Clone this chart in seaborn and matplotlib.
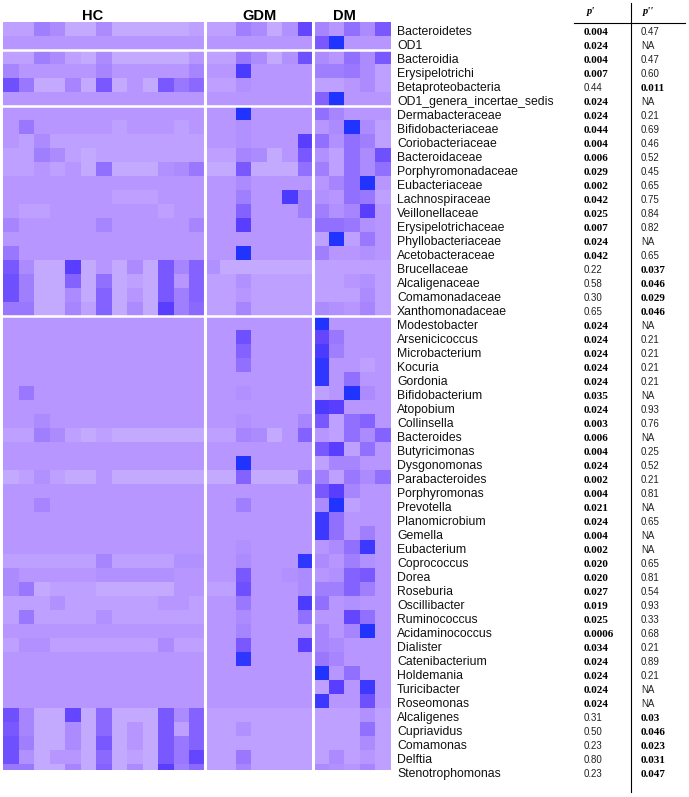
import numpy as np
import pandas as pd
import matplotlib
matplotlib.use("Agg")
import matplotlib.pyplot as plt
import seaborn as sns
from matplotlib.colors import LinearSegmentedColormap
from matplotlib.lines import Line2D
from matplotlib.transforms import blended_transform_factory

# ---------------- data ----------------
taxa = ["Bacteroidetes", "OD1", "Bacteroidia", "Erysipelotrichi", "Betaproteobacteria",
        "OD1_genera_incertae_sedis", "Dermabacteraceae", "Bifidobacteriaceae",
        "Coriobacteriaceae", "Bacteroidaceae", "Porphyromonadaceae", "Eubacteriaceae",
        "Lachnospiraceae", "Veillonellaceae", "Erysipelotrichaceae", "Phyllobacteriaceae",
        "Acetobacteraceae", "Brucellaceae", "Alcaligenaceae", "Comamonadaceae",
        "Xanthomonadaceae", "Modestobacter", "Arsenicicoccus", "Microbacterium", "Kocuria",
        "Gordonia", "Bifidobacterium", "Atopobium", "Collinsella", "Bacteroides",
        "Butyricimonas", "Dysgonomonas", "Parabacteroides", "Porphyromonas", "Prevotella",
        "Planomicrobium", "Gemella", "Eubacterium", "Coprococcus", "Dorea", "Roseburia",
        "Oscillibacter", "Ruminococcus", "Acidaminococcus", "Dialister", "Catenibacterium",
        "Holdemania", "Turicibacter", "Roseomonas", "Alcaligenes", "Cupriavidus",
        "Comamonas", "Delftia", "Stenotrophomonas"]

p_prime = ["0.004", "0.024", "0.004", "0.007", "0.44", "0.024", "0.024", "0.044", "0.004",
           "0.006", "0.029", "0.002", "0.042", "0.025", "0.007", "0.024", "0.042", "0.22",
           "0.58", "0.30", "0.65", "0.024", "0.024", "0.024", "0.024", "0.024", "0.035",
           "0.024", "0.003", "0.006", "0.004", "0.024", "0.002", "0.004", "0.021", "0.024",
           "0.004", "0.002", "0.020", "0.020", "0.027", "0.019", "0.025", "0.0006", "0.034",
           "0.024", "0.024", "0.024", "0.024", "0.31", "0.50", "0.23", "0.80", "0.23"]

p_double = ["0.47", "NA", "0.47", "0.60", "0.011", "NA", "0.21", "0.69", "0.46", "0.52",
            "0.45", "0.65", "0.75", "0.84", "0.82", "NA", "0.65", "0.037", "0.046", "0.029",
            "0.046", "NA", "0.21", "0.21", "0.21", "0.21", "NA", "0.93", "0.76", "NA",
            "0.25", "0.52", "0.21", "0.81", "NA", "0.65", "NA", "NA", "0.65", "0.81", "0.54",
            "0.93", "0.33", "0.68", "0.21", "0.89", "0.21", "NA", "NA", "0.03", "0.046",
            "0.023", "0.031", "0.047"]

groups = ["HC", "GDM", "DM"]

hc_vals = [
    [1.5, 1.5, 4, 3, 1, 1, 3, 1, 1, 1, 1, 1, 1.5],
    [2, 2, 2, 2, 2, 2, 2, 2, 2, 2, 2, 2, 2],
    [1.5, 1.5, 4, 3, 1.5, 1, 3, 1, 1, 1, 1, 1, 2],
    [3.5, 2, 2, 2, 2, 2, 3.5, 2, 2, 2, 2, 2, 3.5],
    [7, 4.5, 1, 1, 3.5, 1, 6.5, 1, 2, 1, 6.5, 4.5, 5.5],
    [2, 2, 2, 2, 2, 2, 2, 2, 2, 2, 2, 2, 2],
    [2, 2, 2, 2, 2, 2, 2, 2, 2, 2, 2, 2, 2],
    [2, 4.5, 2, 2, 2, 2, 2, 1.5, 2, 2, 2, 1.5, 2],
    [2, 1.5, 3, 1.5, 1.5, 1.5, 1.5, 1.5, 1.5, 1.5, 1.5, 1.5, 1.5],
    [1.5, 1.5, 4, 3, 1.5, 1, 1.5, 1.5, 1.5, 1.5, 1.5, 1.5, 1.5],
    [1.5, 1.5, 2, 1.5, 2, 1, 5, 1, 1, 1, 2.5, 3, 4.5],
    [2, 2, 2, 2, 2, 2, 2, 2, 2, 2, 2, 2, 2],
    [2, 2, 2, 2, 2, 2, 2, 1.5, 1.5, 1.5, 2, 2, 2],
    [2, 1.5, 1.5, 2, 2, 2, 2, 2, 2, 2, 1.5, 2, 2],
    [3.5, 2, 2, 2, 2, 2, 3.5, 2, 2, 2, 2, 2, 3.5],
    [2, 2, 2, 2, 2, 2, 2, 2, 2, 2, 2, 2, 2],
    [4.5, 2, 2, 2, 2, 2, 2, 2, 2, 2, 2, 2, 2],
    [6.5, 3, 1, 1, 8, 1, 2, 1, 3, 1, 6.5, 3.5, 6],
    [7, 4, 1, 1, 6, 1, 5, 1, 1.5, 1, 6.5, 2, 6],
    [7, 4, 1, 1, 3, 1, 6, 1, 2, 1, 6.5, 4, 6],
    [4.5, 4.5, 1, 1, 3.5, 1.5, 6, 1, 3, 1, 8, 4, 5.5],
    [2, 2, 2, 2, 2, 2, 2, 2, 2, 2, 2, 2, 2],
    [2, 2, 2, 2, 2, 2, 2, 2, 2, 2, 2, 2, 2],
    [2, 2, 2, 2, 2, 2, 2, 2, 2, 2, 2, 2, 2],
    [2, 2, 2, 2, 2, 2, 2, 2, 2, 2, 2, 2, 2],
    [2, 2, 2, 2, 2, 2, 2, 2, 2, 2, 2, 2, 2],
    [2, 4.5, 2, 2, 2, 2, 2, 2, 2, 2, 2, 2, 2],
    [2, 2, 2, 2, 2, 2, 2, 2, 2, 2, 2, 2, 2],
    [2, 2, 3, 2, 2, 2, 2, 2, 2, 2, 2, 2, 2],
    [1.5, 1.5, 4, 3, 1.5, 1, 1.5, 1, 1, 1, 1, 1, 1],
    [2, 2, 2, 2, 2, 2, 2, 2, 2, 2, 2, 2, 2],
    [2, 2, 2, 2, 2, 2, 2, 2, 2, 2, 2, 2, 2],
    [1, 1.5, 2.5, 1.5, 1, 1, 2, 1, 1, 1, 1, 1, 1],
    [2, 2, 2, 2, 2, 2, 2, 2, 2, 2, 2, 2, 2],
    [2, 2, 3.5, 2, 2, 2, 2, 2, 2, 2, 2, 2, 2],
    [2, 2, 2, 2, 2, 2, 2, 2, 2, 2, 2, 2, 2],
    [2, 2, 2, 2, 2, 2, 2, 2, 2, 2, 2, 2, 2],
    [2, 2, 2, 2, 2, 2, 2, 2, 2, 2, 2, 2, 2],
    [1.5, 1.5, 1.5, 1.5, 1.5, 1.5, 3.5, 1.5, 1.5, 1.5, 1.5, 2.5, 2.5],
    [3, 2, 2, 2, 2, 2, 2.5, 2.5, 2.5, 2.5, 2.5, 2, 2],
    [3, 4.5, 1, 1.5, 1.5, 1.5, 1, 1, 1, 1, 1, 2, 2],
    [1.5, 1.5, 1.5, 2.5, 1.5, 1.5, 1.5, 1.5, 1.5, 1.5, 2, 2, 1.5],
    [1.5, 4.5, 1.5, 1.5, 1.5, 1.5, 2.5, 1.5, 1.5, 1.5, 1.5, 1.5, 1.5],
    [2, 2, 2, 2, 2, 2, 2, 2, 2, 2, 2, 2, 2],
    [1.5, 2.5, 2.5, 1.5, 1.5, 1.5, 1.5, 1.5, 1.5, 1.5, 3, 1.5, 1.5],
    [2, 2, 2, 2, 2, 2, 2, 2, 2, 2, 2, 2, 2],
    [2, 2, 2, 2, 2, 2, 2, 2, 2, 2, 2, 2, 2],
    [2, 2, 2, 2, 2, 2, 2, 2, 2, 2, 2, 2, 2],
    [2, 2, 2, 2, 2, 2, 2, 2, 2, 2, 2, 2, 2],
    [7, 3.5, 1, 1, 7.5, 1, 5.5, 1, 1, 1, 6.5, 3, 6],
    [6.5, 3.5, 1, 1, 3, 1, 5.5, 1, 2, 1, 6.5, 1.5, 6],
    [7, 4, 1, 1, 3, 1, 6.5, 1, 2, 1, 6.5, 4.5, 6],
    [7, 2.5, 1, 2, 2, 1, 5.5, 1, 1.5, 1, 6.5, 4.5, 7.5],
    [4.5, 4.5, 1, 1, 3.5, 1, 6, 1, 3, 1, 8, 4, 5.5],
]

gdm_vals = [
    [1.5, 1.5, 4, 3, 1, 2.5, 7.5],
    [2, 2, 2, 2, 2, 2, 2],
    [1.5, 1.5, 4.5, 3, 1, 2.5, 7],
    [2, 2, 8.5, 2, 2, 2, 2],
    [1.5, 1.5, 2.5, 2, 2, 2, 2],
    [2, 2, 2, 2, 2, 2, 2],
    [2, 2, 10, 2, 2, 2, 2],
    [2, 2, 2.5, 2, 2, 2, 2],
    [2, 2, 2.5, 2, 2, 2, 8],
    [1.5, 1.5, 3.5, 3, 1, 2, 6.5],
    [1, 1, 6.5, 1, 1, 1, 5],
    [2, 2, 3, 2, 2, 2, 2],
    [2, 2, 4, 2, 2, 8.5, 4],
    [2, 2, 6, 2, 2, 2, 4],
    [2, 2, 8, 2, 2, 2, 2],
    [2, 2, 2, 2, 2, 2, 2],
    [2, 2, 10, 2, 2, 2, 2],
    [2.5, 1, 1, 1, 1, 1, 1],
    [1.5, 1.5, 2.5, 1.5, 1.5, 1.5, 1.5],
    [1.5, 1.5, 2, 1.5, 1.5, 1.5, 1.5],
    [1.5, 1.5, 3.5, 1.5, 1.5, 1.5, 1.5],
    [2, 2, 2, 2, 2, 2, 2],
    [2, 2, 7, 2, 2, 2, 2],
    [2, 2, 6, 2, 2, 2, 2],
    [2, 2, 5, 2, 2, 2, 2],
    [2, 2, 2, 2, 2, 2, 2],
    [2, 2, 2.5, 2, 2, 2, 2],
    [2, 2, 2, 2, 2, 2, 2],
    [2, 2, 2.5, 2, 2, 2, 3.5],
    [1.5, 1.5, 3.5, 3, 1, 2, 6],
    [2, 2, 2, 2, 2, 2, 2],
    [2, 2, 10, 2, 2, 2, 2],
    [1, 1, 6, 1, 1, 1, 4],
    [2, 2, 2, 2, 2, 2, 2],
    [2, 2, 4, 2, 2, 2, 2],
    [2, 2, 2, 2, 2, 2, 2],
    [2, 2, 2, 2, 2, 2, 2],
    [2, 2, 2.5, 2, 2, 2, 2],
    [2, 2, 3, 2, 2, 2, 9.5],
    [2, 2, 6.5, 2, 2, 2.5, 3],
    [1.5, 1.5, 7, 2, 2, 2, 3],
    [2, 2, 4.5, 2, 2, 2, 8.5],
    [2, 2, 3, 2, 2, 2, 5],
    [2, 2, 3.5, 2, 2, 2, 2],
    [2, 2, 6.5, 2, 2, 2, 8],
    [2, 2, 9.5, 2, 2, 2, 2],
    [2, 2, 2, 2, 2, 2, 2],
    [2, 2, 2, 2, 2, 2, 2],
    [2, 2, 2, 2, 2, 2, 2],
    [1.5, 1.5, 1.5, 1.5, 1.5, 1.5, 1.5],
    [1.5, 1.5, 2.5, 1.5, 1.5, 1.5, 1.5],
    [1.5, 1.5, 1.5, 1.5, 1.5, 1.5, 1.5],
    [1.5, 1.5, 4.5, 1.5, 1.5, 1.5, 1.5],
    [1.5, 1.5, 3.5, 1.5, 1.5, 1.5, 1.5],
]

dm_vals = [
    [3.5, 2, 5, 3, 6.5], [6.5, 10, 2, 2, 2], [3, 2, 5, 3, 6.5], [4, 4, 4.5, 3, 1.5],
    [1.5, 1.5, 2, 3, 1.5], [6, 10, 2, 2, 2], [5, 3.5, 2, 2, 2], [2, 3, 10, 3, 1.5],
    [5, 2.5, 5, 4, 1.5], [2.5, 1.5, 5, 3, 7], [4, 1.5, 5, 3, 5], [2, 3.5, 5, 10, 2],
    [2.5, 2, 5, 4.5, 1.5], [4, 2.5, 3.5, 8, 2], [5, 5, 4.5, 2.5, 2], [1.5, 10, 1.5, 4.5, 2],
    [4, 2, 2, 2.5, 2], [1.5, 1.5, 1.5, 1.5, 1.5], [1.5, 1.5, 2, 2.5, 1.5],
    [1.5, 1.5, 1.5, 3, 1.5], [3, 2.5, 2, 3.5, 1.5],
    [10, 2, 2, 2, 2], [7.5, 4.5, 2, 2, 2], [8.5, 4, 2, 2, 2], [9.5, 2, 2, 1.5, 2],
    [9.5, 2, 5, 2, 2], [1.5, 2, 10, 3, 2], [8.5, 8, 2, 2, 2], [6.5, 1.5, 5, 6, 2],
    [2, 1.5, 5, 3, 6], [6.5, 8, 1.5, 5, 2], [1.5, 3.5, 3.5, 2, 2], [4, 1.5, 4.5, 3, 5],
    [6.5, 8, 3.5, 2, 2], [3, 10, 1.5, 2, 2], [9, 5, 2, 2, 2], [9, 5, 2, 4, 2],
    [2, 3, 5, 9, 2], [3, 2, 4, 2.5, 2], [2, 2.5, 6, 6.5, 2], [4, 4, 6, 4, 2],
    [5, 2, 2.5, 2, 2], [2, 2, 7.5, 5, 2], [3.5, 2, 3.5, 10, 2], [3.5, 3, 2, 2, 2],
    [4.5, 3.5, 2, 2, 2], [10, 2, 5, 2, 2], [1.5, 8, 2, 9, 2], [9, 2, 2, 7, 2],
    [1.5, 1.5, 1.5, 2.5, 1.5], [1.5, 1.5, 1.5, 5, 1.5], [1.5, 1.5, 1.5, 3, 1.5],
    [1.5, 3, 1.5, 2, 1.5], [3, 2.5, 2, 3.5, 1.5],
]

row_breaks = [2, 6, 21]

# ---------------- build ----------------
n_hc, n_gdm, n_dm = len(hc_vals[0]), len(gdm_vals[0]), len(dm_vals[0])
cols = [f"HC{i+1}" for i in range(n_hc)] + [f"GDM{i+1}" for i in range(n_gdm)] + \
       [f"DM{i+1}" for i in range(n_dm)]
mat = np.hstack([np.array(hc_vals, float), np.array(gdm_vals, float), np.array(dm_vals, float)])
df = pd.DataFrame(mat, index=taxa, columns=cols)

cmap = LinearSegmentedColormap.from_list(
    "lav", [(0.0, "#CFBCFF"), (0.2, "#B797FF"), (0.4, "#A07FFF"),
            (0.6, "#8462FF"), (0.8, "#5A3EFF"), (1.0, "#2033FF")])

plt.rcParams["font.family"] = ["Liberation Sans", "DejaVu Sans"]

W, H = 689, 797
fig = plt.figure(figsize=(W / 100, H / 100), dpi=100)
left_px, right_px, top_px, bot_px = 3, 390.5, 22, 770
ax = fig.add_axes([left_px / W, 1 - bot_px / H, (right_px - left_px) / W, (bot_px - top_px) / H])
sns.heatmap(df, ax=ax, cmap=cmap, vmin=0, vmax=10, cbar=False,
            xticklabels=False, yticklabels=False)
n_rows = len(taxa)
row_px = 14.0
ax.set_ylim((bot_px - top_px) / row_px, 0)
ax.set_xlim(0, len(cols))
ax.set_xlabel("")
ax.set_ylabel("")
ax.tick_params(left=False, bottom=False)

for rb in row_breaks:
    ax.axhline(rb, color="white", lw=1.8)
ax.axvline(n_hc, color="white", lw=2.2)
ax.axvline(n_hc + n_gdm, color="white", lw=2.2)

# group headers
for g, xc in zip(groups, [5.8, 16.55, 22.03]):
    ax.text(xc, -0.14, g, ha="center", va="baseline", fontsize=10.5,
            fontweight="bold", color="black")

tr = blended_transform_factory(fig.transFigure, ax.transData)
lab_x, p1_x, p2_x = 397 / W, 584 / W, 641 / W
for i, name in enumerate(taxa):
    y = i + 0.92
    ax.text(lab_x, y, name, transform=tr, ha="left", va="baseline",
            fontsize=8.8, color="#111111", clip_on=False)
    for xx, val in ((p1_x, p_prime[i]), (p2_x, p_double[i])):
        sig = val != "NA" and float(val) < 0.05
        if sig:
            ax.text(xx, y, val, transform=tr, ha="left", va="baseline",
                    fontsize=8.0, fontweight="bold", family="Liberation Serif",
                    color="black", clip_on=False)
        else:
            ax.text(xx, y, val, transform=tr, ha="left", va="baseline",
                    fontsize=7.0, family="Liberation Sans", color="#222222",
                    clip_on=False)

# p-value table headers and rules
fig.text(p1_x + 3 / W, 1 - 14 / H, "p'", ha="left", va="baseline", fontsize=7.5,
         fontweight="bold", style="italic", family="Liberation Serif")
fig.text(p2_x + 2 / W, 1 - 14 / H, "p''", ha="left", va="baseline", fontsize=7.5,
         fontweight="bold", style="italic", family="Liberation Serif")
fig.add_artist(Line2D([574 / W, 685 / W], [1 - 22.7 / H, 1 - 22.7 / H],
                      color="black", lw=0.8, transform=fig.transFigure))
fig.add_artist(Line2D([631 / W, 631 / W], [1 - 3 / H, 1 - 792 / H],
                      color="black", lw=0.8, transform=fig.transFigure))

fig.savefig("out.png", dpi=100, facecolor="white")
